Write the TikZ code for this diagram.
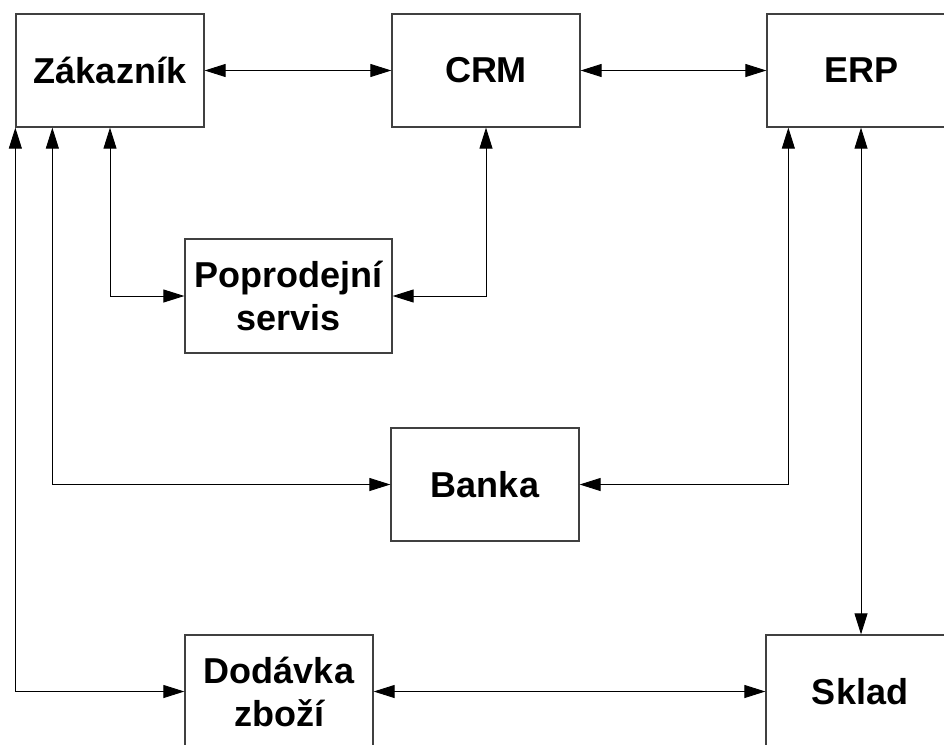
\documentclass[tikz,border=0pt]{standalone}
\usepackage{fontspec}
\setmainfont{Liberation Sans}
\usetikzlibrary{arrows.meta,calc}
\begin{document}
\begin{tikzpicture}[x=1pt,y=-1pt,
  box/.style={draw=black!75, line width=1.3pt, minimum width=188pt, minimum height=113pt,
    inner sep=0pt, align=center, font=\fontsize{36}{43}\selectfont\bfseries},
  link/.style={line width=0.9pt,
    {Triangle[length=21pt,width=13pt]}-{Triangle[length=21pt,width=13pt]}}]
\useasboundingbox (0,0) rectangle (944,744);
\clip (0,0) rectangle (944,744);
\fill[white] (0,0) rectangle (944,744);

% systems
\node[box] (zak) at (110,70.5) {Zákazník};
\node[box] (crm) at (486,70.5) {CRM};
\node[box] (erp) at (861,70.5) {ERP};
\node[box, minimum width=207pt, minimum height=114pt] (servis) at (288.5,296) {Poprodejní\\servis};
\node[box] (banka) at (485,484.5) {Banka};
\node[box] (dod) at (279,691.5) {Dodávka\\zboží};
\node[box] (sklad) at (860,691.5) {Sklad};

% data flows
\draw[link] (zak.east) -- (crm.west);
\draw[link] (crm.east) -- (erp.west);
\draw[link] (zak.south) |- (servis.west);
\draw[link] (crm.south) |- (servis.east);
\draw[link] ($(zak.south west)+(37,0)$) |- (banka.west);
\draw[link] ($(erp.south west)+(22,0)$) |- (banka.east);
\draw[link] (erp.south) -- (erp.south |- sklad.north);
\draw[link] (zak.south west) |- (dod.west);
\draw[link] (dod.east) -- (sklad.west);
\end{tikzpicture}
\end{document}
